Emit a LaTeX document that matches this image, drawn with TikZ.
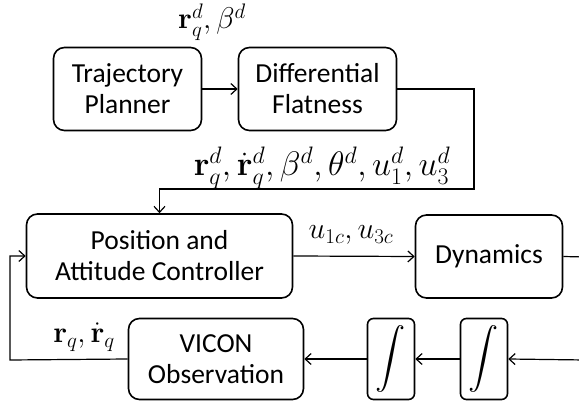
\RequirePackage{fix-cm}
\documentclass[tikz,border=0pt]{standalone}
\usepackage{amsmath}
\usepackage{graphicx}
\usepackage[no-math]{fontspec}
\setmainfont{Carlito}
\usetikzlibrary{arrows.meta}
\begin{document}
\begin{tikzpicture}[x=1pt,y=-1pt,
  blk/.style={draw,line width=1.6pt,rounded corners=11pt,align=center,inner sep=0pt,font=\fontsize{27.5}{31}\selectfont},
  intblk/.style={draw,line width=1.6pt,rounded corners=6pt,inner sep=0pt,minimum width=47pt,minimum height=81pt,font=\fontsize{30}{30}\selectfont},
  conn/.style={line width=1.2pt},
  arr/.style={conn,-{Straight Barb[length=6pt,width=11pt,line width=1.2pt]}},
  lbl/.style={inner sep=0pt,font=\fontsize{30}{32}\selectfont}]
\useasboundingbox (0,0) rectangle (579,406);
\node[blk,minimum width=148pt,minimum height=83pt] (tp) at (127.5,89) {Trajectory\\Planner};
\node[blk,minimum width=158pt,minimum height=83pt] (df) at (317.5,89) {Differential\\Flatness};
\node[blk,minimum width=266pt,minimum height=84pt] (ctrl) at (159.5,256) {Position and\\Attitude Controller};
\node[blk,minimum width=147pt,minimum height=83pt] (dyn) at (489,256.5) {Dynamics};
\node[blk,minimum width=175pt,minimum height=81pt] (vic) at (216,359) {VICON\\Observation};
\node[intblk] (i1) at (391,359) {\resizebox*{!}{67pt}{$\displaystyle\int$}};
\node[intblk] (i2) at (484,359) {\resizebox*{!}{67pt}{$\displaystyle\int$}};
\node[lbl] (l1) at (212,22) {$\mathbf{r}_q^d, \beta^d$};
\node[lbl,font=\fontsize{34}{36}\selectfont] (l2) at (322,168) {$\mathbf{r}_q^d, \dot{\mathbf{r}}_q^d, \beta^d, \theta^d, u_1^d, u_3^d$};
\node[lbl] (l3) at (351,235) {$u_{1c}, u_{3c}$};
\node[lbl] (l4) at (84,337) {$\mathbf{r}_q, \dot{\mathbf{r}}_q$};
\coordinate (c1) at (474,189);
\coordinate (e1) at (585,257);
\coordinate (e2) at (585,360);
\coordinate (fb) at (10,360);
\draw[arr] (tp.east) -- (df.west);
\draw[arr] (df.east) -| (c1) -| (ctrl.north);
\draw[arr] (ctrl.east) -- (dyn.west);
\draw[conn] (dyn.east) -- (e1) -- (e2);
\draw[arr] (e2) -- (i2.east);
\draw[arr] (i2.west) -- (i1.east);
\draw[arr] (i1.west) -- (vic.east);
\draw[arr] (vic.west) -- (fb) |- (ctrl.west);
\end{tikzpicture}
\end{document}
